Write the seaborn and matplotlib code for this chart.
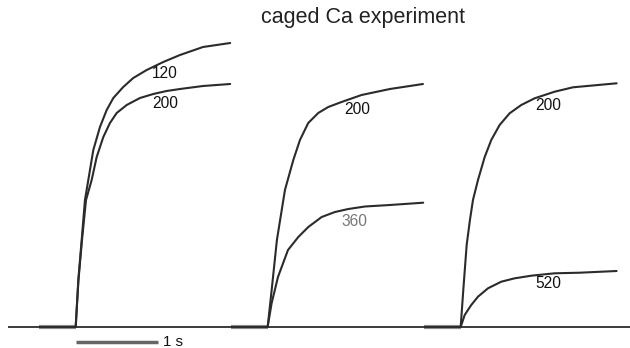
import numpy as np
import pandas as pd
import matplotlib
matplotlib.use("Agg")
import matplotlib.pyplot as plt
import seaborn as sns

# ---- data (time in s after flash, force in a.u.) ----
panel_onsets = [0.0, 2.341, 4.695]          # flash times (s)

t_p1_120 = [0, 0.032, 0.073, 0.113, 0.154, 0.215, 0.296, 0.378, 0.459, 0.580, 0.702, 0.866, 1.068, 1.272, 1.553, 1.884]
f_p1_120 = [0, 47, 87, 127, 147, 177, 200, 217, 229, 240, 249, 257, 265, 272, 280, 284]

t_p1_200 = [0, 0.034, 0.077, 0.126, 0.195, 0.256, 0.337, 0.418, 0.500, 0.622, 0.784, 0.946, 1.109, 1.272, 1.553, 1.884]
f_p1_200 = [0, 47, 87, 127, 147, 170, 190, 204, 214, 222, 229, 233, 236, 238, 241, 243]

t_p2_200 = [0, 0.049, 0.113, 0.211, 0.313, 0.394, 0.495, 0.617, 0.739, 0.901, 1.145, 1.491, 1.894]
f_p2_200 = [0, 37, 87, 137, 167, 187, 204, 214, 220, 225, 232, 238, 243]

t_p2_360 = [0, 0.049, 0.126, 0.248, 0.374, 0.496, 0.659, 0.821, 0.984, 1.187, 1.491, 1.897]
f_p2_360 = [0, 24, 50, 77, 90, 100, 110, 115, 118, 120.5, 122, 124.3]

t_p3_200 = [0, 0.032, 0.073, 0.113, 0.150, 0.211, 0.293, 0.373, 0.475, 0.597, 0.739, 0.902, 1.146, 1.370, 1.902]
f_p3_200 = [0, 37, 82, 107, 127, 147, 170, 187, 202, 213.7, 222, 228.7, 235.3, 239.7, 243.7]

t_p3_520 = [0, 0.049, 0.129, 0.211, 0.333, 0.495, 0.659, 0.861, 1.146, 1.454, 1.902]
f_p3_520 = [0, 12, 22, 30.3, 38.7, 45.3, 48.7, 51.3, 53.7, 54.3, 56]

traces = [
    ("120", 0, t_p1_120, f_p1_120),
    ("200", 0, t_p1_200, f_p1_200),
    ("200", 1, t_p2_200, f_p2_200),
    ("360", 1, t_p2_360, f_p2_360),
    ("200", 2, t_p3_200, f_p3_200),
    ("520", 2, t_p3_520, f_p3_520),
]

# label positions (time after onset, force) per trace
label_t = [1.089, 1.089, 1.098, 1.061, 1.065, 1.065]
label_f = [253, 223, 218, 105, 221, 43]
label_colors = ["#111111", "#111111", "#111111", "#777777", "#111111", "#111111"]

title = "caged Ca experiment"
scale_bar_s = 1.0
scale_label = "1 s"

# ---- figure ----
sns.set_theme(style="white")
plt.rcParams["font.family"] = ["Liberation Sans", "DejaVu Sans"]

fig = plt.figure(figsize=(6.3, 3.48), dpi=100)
ax = fig.add_axes([0, 0, 1, 1])
ax.set_xlim(-0.923, 6.760)
ax.set_ylim(-21, 327)
ax.axis("off")

# baseline
ax.plot([-0.83, 6.76], [0, 0], color="#1a1a1a", lw=1.2, solid_capstyle="butt", zorder=2)
for on in panel_onsets:
    ax.plot([on - 0.45, on], [0, 0], color="#8a8a8a", lw=3.0, solid_capstyle="butt", zorder=1)

rows = []
for i, (lab, p, t, f) in enumerate(traces):
    for tt, ff in zip(t, f):
        rows.append({"trace": i, "label": lab, "time": panel_onsets[p] + tt, "force": ff})
df = pd.DataFrame(rows)

for i, sub in df.groupby("trace"):
    sns.lineplot(data=sub, x="time", y="force", sort=False, estimator=None,
                 color="#2b2b2b", lw=1.5, ax=ax, legend=False,
                 solid_joinstyle="round", solid_capstyle="round")

for i, (lab, p, t, f) in enumerate(traces):
    ax.text(panel_onsets[p] + label_t[i], label_f[i], lab, ha="center", va="center",
            fontsize=11.2, color=label_colors[i])

# scale bar
ax.plot([0, scale_bar_s], [-15, -15], color="#666666", lw=2.5, solid_capstyle="butt")
ax.text(scale_bar_s + 0.065, -15, scale_label, ha="left", va="center", fontsize=10.8, color="#111111")

ax.text(3.505, 310, title, ha="center", va="center", fontsize=15.5, color="#222222")
ax.set_xlabel("")
ax.set_ylabel("")

fig.savefig("out.png", dpi=100)
